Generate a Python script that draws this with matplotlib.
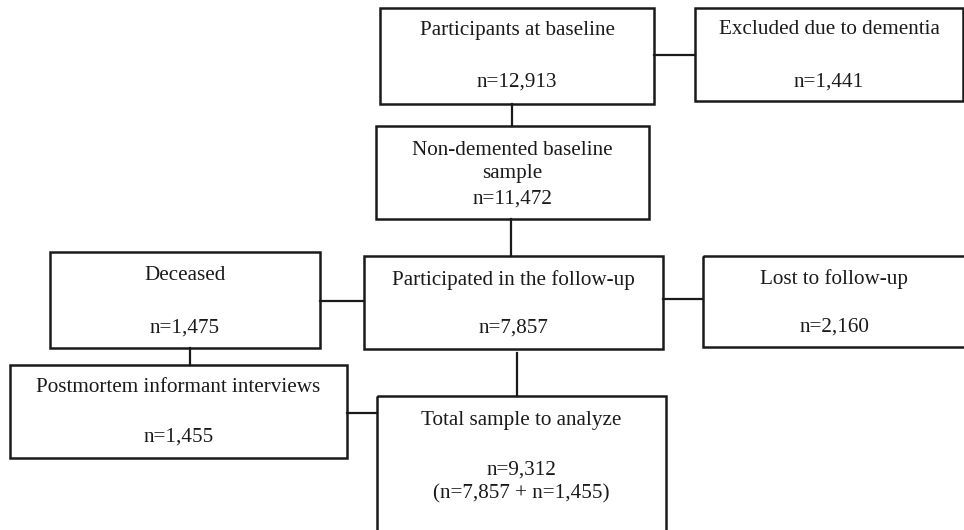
import matplotlib.pyplot as plt
from matplotlib.patches import Rectangle

# =====================================
# DADOS
# =====================================

titles = [
    "Participants at baseline",
    "Excluded due to dementia",
    "Non-demented baseline\nsample",
    "Deceased",
    "Participated in the follow-up",
    "Lost to follow-up",
    "Postmortem informant interviews",
    "Total sample to analyze",
]
counts = ["n=12,913", "n=1,441", "n=11,472", "n=1,475", "n=7,857",
          "n=2,160", "n=1,455", "n=9,312\n(n=7,857 + n=1,455)"]

# =====================================
# LAYOUT (pixels: x0, y0, x1, y1, y_title, y_count)
# =====================================

layout = [
    (380, 8, 654, 104, 30, 82),
    (695, 8, 963, 101, 30, 82),
    (376, 126, 649, 219, 162, 199),
    (50, 252, 320, 348, 275, 328),
    (364, 256, 663, 349, 280, 328),
    (703, 256, 966, 347, 279, 327),
    (10, 365, 347, 458, 388, 437),
    (377, 396, 666, 545, 420, 482),
]

links = [
    ((654, 55), (695, 55)),
    ((512, 104), (512, 126)),
    ((511, 219), (511, 256)),
    ((320, 301), (364, 301)),
    ((663, 299), (703, 299)),
    ((190, 348), (190, 365)),
    ((517, 353), (517, 396)),
    ((347, 413), (377, 413)),
]

plt.rcParams["font.family"] = ["Liberation Serif", "DejaVu Serif"]

fig = plt.figure(figsize=(9.64, 5.30), dpi=100)
ax = fig.add_axes([0, 0, 1, 1])
ax.set_xlim(0, 964)
ax.set_ylim(530, 0)
ax.axis("off")

for (x0, y0, x1, y1, yt, yc), t, c in zip(layout, titles, counts):
    ax.add_patch(Rectangle((x0, y0), x1 - x0, y1 - y0, fill=False,
                           edgecolor="#1a1a1a", linewidth=1.8))
    xm = (x0 + x1) / 2
    ax.text(xm, yt, t, ha="center", va="center", fontsize=15.2,
            color="#1a1a1a", linespacing=1.35)
    ax.text(xm, yc, c, ha="center", va="center", fontsize=15.2,
            color="#1a1a1a", linespacing=1.35)

for (a, b) in links:
    ax.plot([a[0], b[0]], [a[1], b[1]], color="#1a1a1a", linewidth=1.6)

fig.savefig("out.png", dpi=100)
plt.close(fig)
